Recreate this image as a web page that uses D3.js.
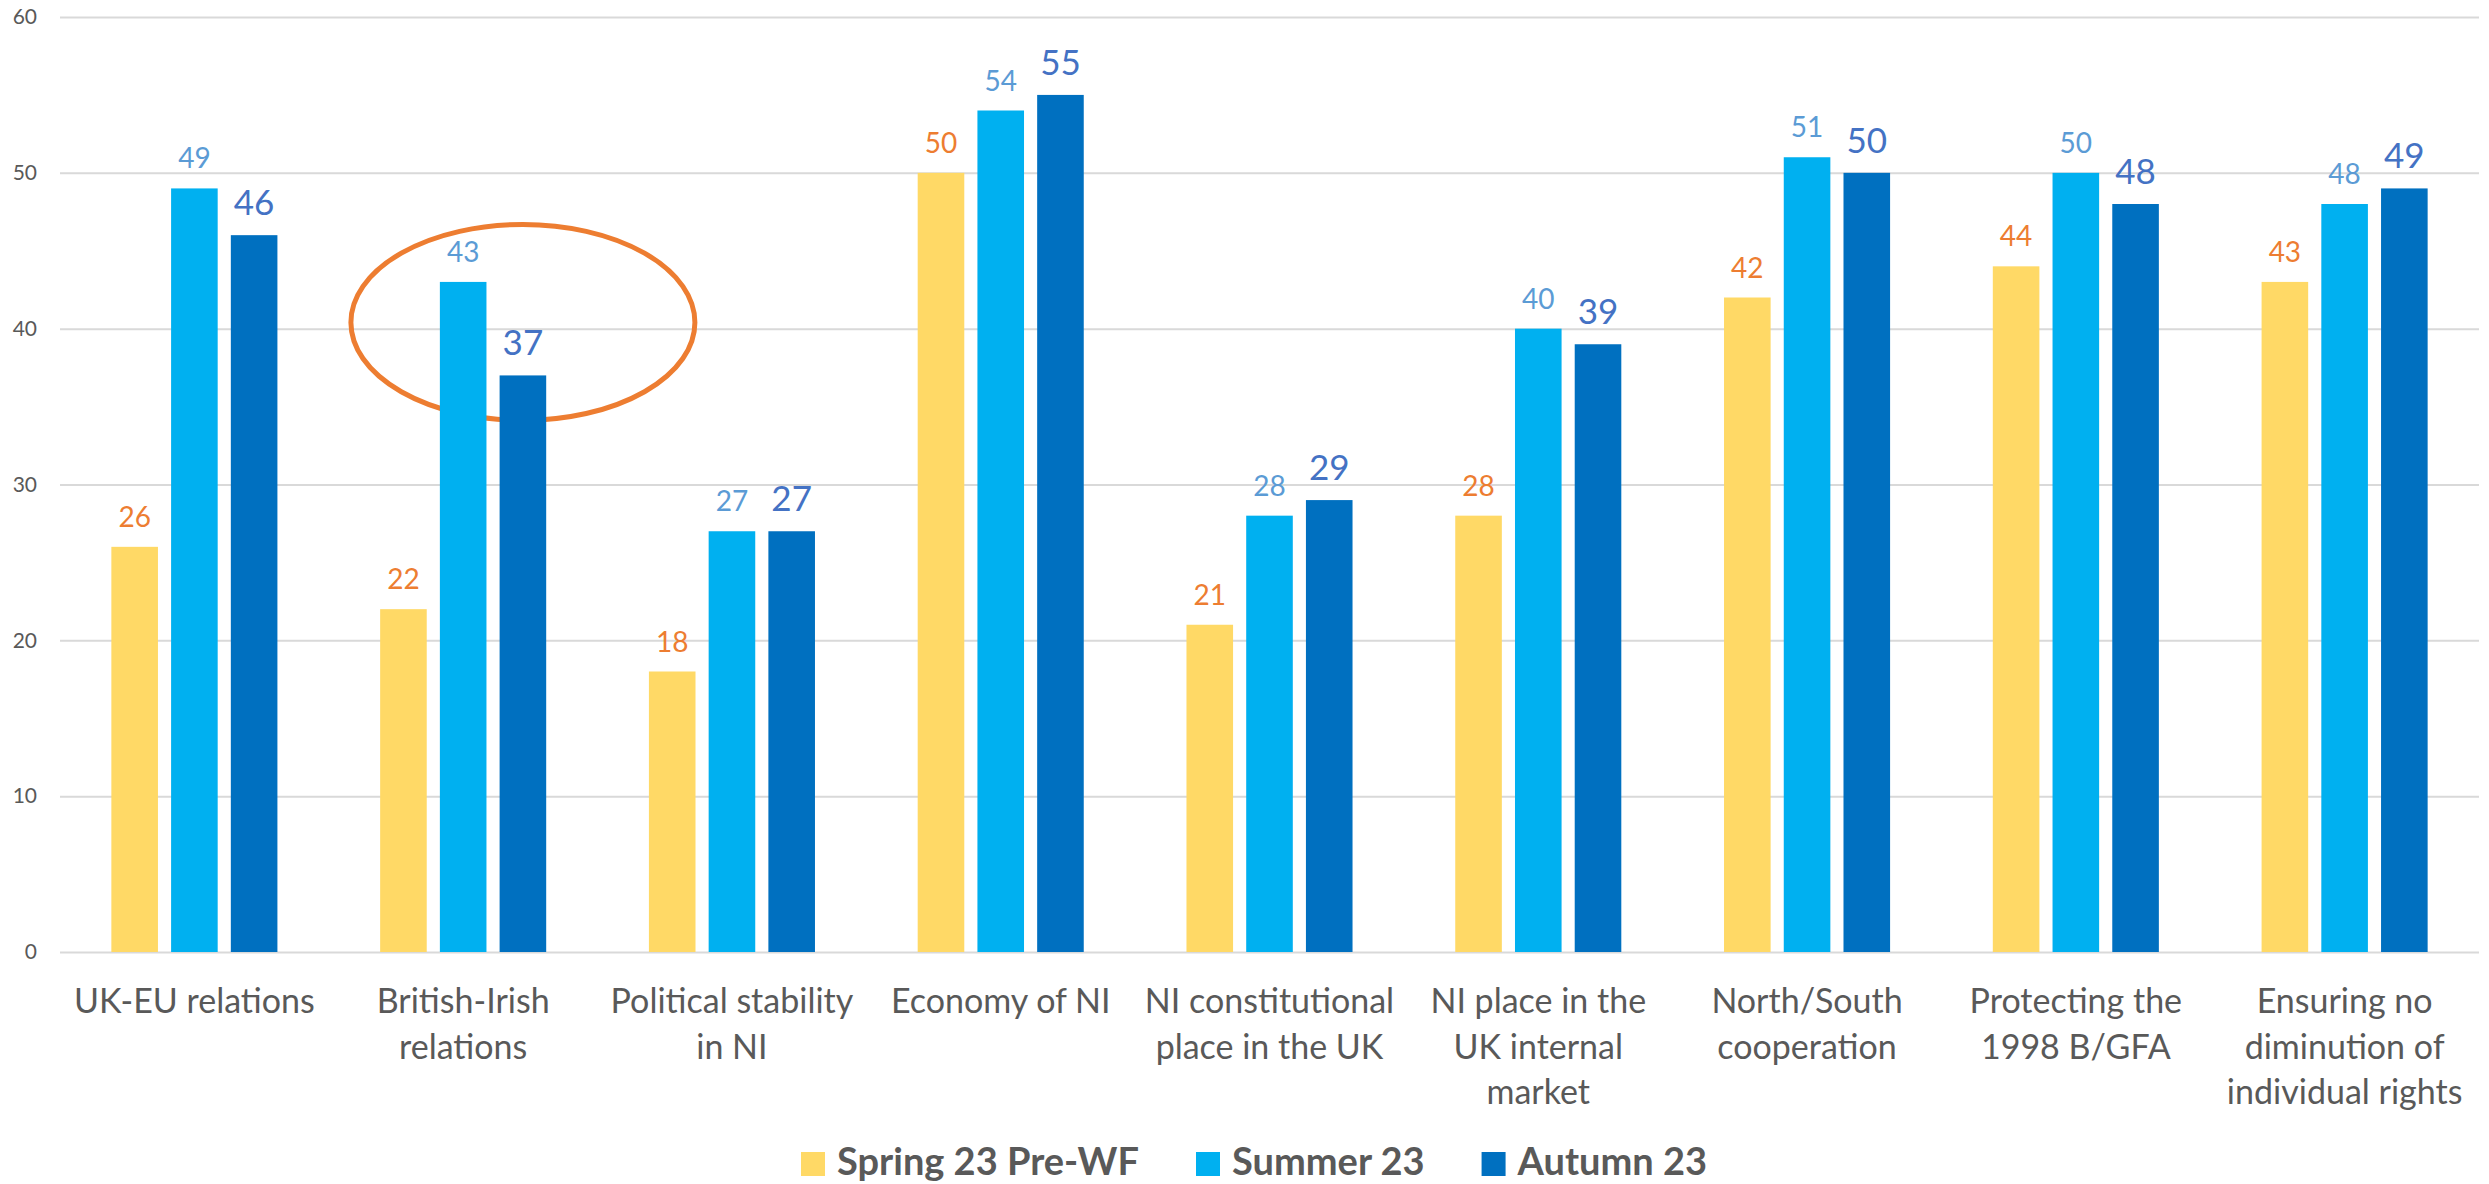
<!DOCTYPE html>
<html>
<head>
<meta charset="utf-8">
<script src="https://cdn.jsdelivr.net/npm/d3@7"></script>
<style>
    body { margin: 0; background: #fff; }
    #chart { width: 2489px; height: 1184px; }
    text { font-family: Lato, 'Open Sans', sans-serif; }
</style>
</head>
<body>
<div id="chart"></div>
<script>
//Data
const categories = [
    ['UK-EU relations'],
    ['British-Irish', 'relations'],
    ['Political stability', 'in NI'],
    ['Economy of NI'],
    ['NI constitutional', 'place in the UK'],
    ['NI place in the', 'UK internal', 'market'],
    ['North/South', 'cooperation'],
    ['Protecting the', '1998 B/GFA'],
    ['Ensuring no', 'diminution of', 'individual rights']
];
const seriesNames = ['Spring 23 Pre-WF', 'Summer 23', 'Autumn 23'];
const spring = [26, 22, 18, 50, 21, 28, 42, 44, 43];
const summer = [49, 43, 27, 54, 28, 40, 51, 50, 48];
const autumn = [46, 37, 27, 55, 29, 39, 50, 48, 49];
const yTicks = [0, 10, 20, 30, 40, 50, 60];

//Highlighted group (orange ellipse)
const highlightIndex = 1;
const highlightValue = 40.4;

//Colores fijos
const COLOR_SPRING = '#FFD966',
    COLOR_SUMMER = '#00B0F0',
    COLOR_AUTUMN = '#0070C0',
    LABEL_SPRING = '#ED7D31',
    LABEL_SUMMER = '#5B9BD5',
    LABEL_AUTUMN = '#4472C4',
    COLOR_TEXT = '#595959',
    COLOR_GRID = '#D9D9D9';

let margin = {top: 17, right: 10, bottom: 232, left: 60},
    width = 2489 - margin.left - margin.right,
    height = 1184 - margin.top - margin.bottom;

let svg = d3.select('#chart')
    .append('svg')
        .attr('width', width + margin.left + margin.right)
        .attr('height', height + margin.top + margin.bottom)
    .append('g')
        .attr('transform', 'translate(' + margin.left + ',' + margin.top + ')');

let keys = categories.map(function(d) { return d.join(' '); });

let data = keys.map(function(k, i) {
    return {key: k, lines: categories[i], values: [spring[i], summer[i], autumn[i]]};
});

// X scales
let x0 = d3.scaleBand()
    .domain(keys)
    .range([0, width]);

let half = 89.6;
let x1 = d3.scaleBand()
    .domain(seriesNames)
    .range([x0.bandwidth() / 2 - half, x0.bandwidth() / 2 + half])
    .paddingInner(0.22)
    .paddingOuter(0.11);

// Y scale
let y = d3.scaleLinear()
    .domain([0, 60])
    .range([height, 0]);

let color = d3.scaleOrdinal()
    .domain(seriesNames)
    .range([COLOR_SPRING, COLOR_SUMMER, COLOR_AUTUMN]);

let labelColor = d3.scaleOrdinal()
    .domain(seriesNames)
    .range([LABEL_SPRING, LABEL_SUMMER, LABEL_AUTUMN]);

let labelSize = d3.scaleOrdinal()
    .domain(seriesNames)
    .range([28, 28, 35]);

// Y axis + gridlines
let yAxis = function(g) {
    g.call(d3.axisLeft(y).tickValues(yTicks).tickSize(-width).tickPadding(23));
    g.call(function(g) { g.select('.domain').remove(); });
    g.call(function(g) {
        g.selectAll('.tick line')
            .attr('stroke', COLOR_GRID)
            .attr('stroke-width', 2);
    });
    g.call(function(g) {
        g.selectAll('.tick text')
            .attr('fill', COLOR_TEXT)
            .style('font-size', '21px');
    });
};

svg.append('g')
    .call(yAxis);

// X axis (category labels)
let xAxis = function(g) {
    g.call(d3.axisBottom(x0).tickSize(0));
    g.call(function(g) { g.select('.domain').remove(); });
    g.call(function(g) {
        g.selectAll('.tick text')
            .attr('y', 0)
            .attr('dy', null)
            .attr('fill', COLOR_TEXT)
            .style('font-size', '34px')
            .text(null)
            .each(function(d, i) {
                let t = d3.select(this);
                categories[i].forEach(function(line, j) {
                    t.append('tspan')
                        .attr('x', 0)
                        .attr('y', 61 + j * 45.5)
                        .text(line);
                });
            });
    });
};

svg.append('g')
    .attr('transform', 'translate(0,' + height + ')')
    .call(xAxis);

// Ellipse (behind the bars)
svg.append('ellipse')
    .attr('cx', x0(keys[highlightIndex]) + x1(seriesNames[2]) + x1.bandwidth() / 2)
    .attr('cy', y(highlightValue))
    .attr('rx', 172)
    .attr('ry', 98)
    .attr('fill', 'none')
    .attr('stroke', '#ED7D31')
    .attr('stroke-width', 5);

// Bars
let groups = svg.append('g')
    .selectAll('g')
    .data(data)
    .enter()
    .append('g')
    .attr('transform', function(d) { return 'translate(' + x0(d.key) + ',0)'; });

groups.selectAll('rect')
    .data(function(d) { return seriesNames.map(function(s, i) { return {key: s, value: d.values[i]}; }); })
    .enter()
    .append('rect')
    .attr('x', function(d) { return x1(d.key); })
    .attr('width', x1.bandwidth())
    .attr('y', function(d) { return y(d.value); })
    .attr('height', function(d) { return y(0) - y(d.value); })
    .attr('fill', function(d) { return color(d.key); });

groups.selectAll('text')
    .data(function(d) { return seriesNames.map(function(s, i) { return {key: s, value: d.values[i]}; }); })
    .enter()
    .append('text')
    .attr('x', function(d) { return x1(d.key) + x1.bandwidth() / 2; })
    .attr('y', function(d) { return y(d.value) - 20; })
    .attr('text-anchor', 'middle')
    .attr('fill', function(d) { return labelColor(d.key); })
    .style('font-size', function(d) { return labelSize(d.key) + 'px'; })
    .text(function(d) { return d.value; });

// Legend
let legend = d3.select('#chart svg').append('g')
    .attr('transform', 'translate(801,1152)');

let lx = 0;
seriesNames.forEach(function(s) {
    legend.append('rect')
        .attr('x', lx)
        .attr('y', 0)
        .attr('width', 24)
        .attr('height', 24)
        .attr('fill', color(s));
    let t = legend.append('text')
        .attr('x', lx + 36)
        .attr('y', 23)
        .attr('fill', COLOR_TEXT)
        .style('font-size', '38px')
        .style('font-weight', 'bold')
        .text(s);
    lx += 36 + t.node().getComputedTextLength() + 57;
});
</script>
</body>
</html>
